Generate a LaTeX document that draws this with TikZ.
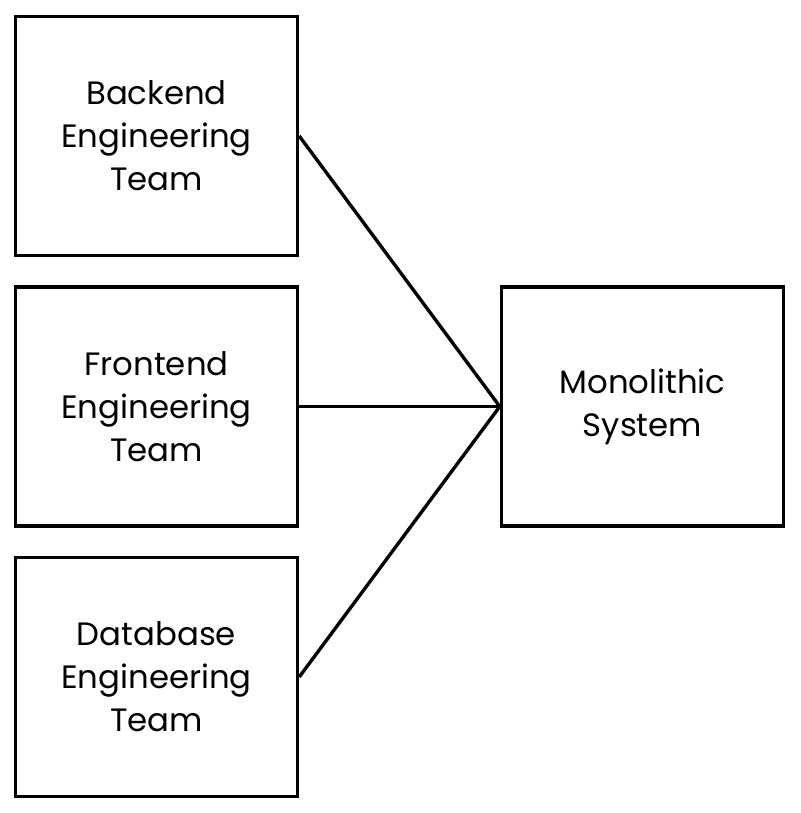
\documentclass[tikz,border=0pt]{standalone}
\usepackage{fontspec}
\setmainfont{Poppins}
\tikzset{
	teambox/.style={draw, line width=2.4pt, minimum width=7.05cm, minimum height=5.975cm, align=center, font=\fontsize{23}{30.5}\selectfont},
}
\begin{document}
\begin{tikzpicture}[x=0.025cm, y=-0.025cm]
	\useasboundingbox (0,0) rectangle (800,813);
	\node[teambox] (backend) at (156.5,136) {Backend\\Engineering\\Team};
	\node[teambox] (frontend) at (156.5,406.5) {Frontend\\Engineering\\Team};
	\node[teambox] (database) at (156.5,677) {Database\\Engineering\\Team};
	\node[teambox] (mono) at (642.5,406.5) {Monolithic\\System};
	\draw[line width=2.4pt] (backend.east) -- (mono.west);
	\draw[line width=2.4pt] (frontend.east) -- (mono.west);
	\draw[line width=2.4pt] (database.east) -- (mono.west);
\end{tikzpicture}
\end{document}
